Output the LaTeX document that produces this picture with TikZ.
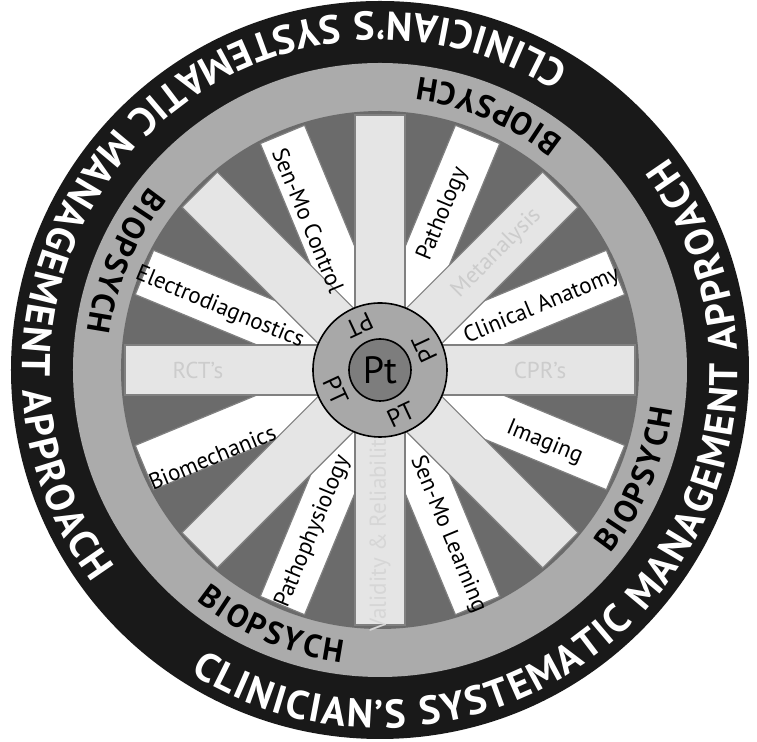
\documentclass[tikz,border=0pt]{standalone}
\usepackage{fontspec}
\setmainfont{PT Sans}
\usetikzlibrary{decorations.text}

\definecolor{rimblack}{gray}{0.1}
\definecolor{rimgray}{gray}{0.67}
\definecolor{wedgegray}{gray}{0.42}
\definecolor{spokegray}{gray}{0.9}
\definecolor{edgegray}{gray}{0.5}
\definecolor{hubgray}{gray}{0.66}
\definecolor{coregray}{gray}{0.49}
\definecolor{fadegray}{gray}{0.8}
\definecolor{palegray}{gray}{0.84}

\tikzset{
	spokeedge/.style={draw=edgegray,line width=0.6pt},
	spokelabel/.style={font=\fontsize{11.5}{12}\selectfont,inner sep=0pt},
	fadelabel/.style={spokelabel,text=fadegray},
	hublabel/.style={font=\fontsize{12.5}{13}\selectfont,inner sep=0pt},
}

\begin{document}
\begin{tikzpicture}[x=0.5pt,y=0.5pt]
		\def\rr{369}
		\def\rg{307}
		\def\rw{259}
		\def\sl{255}
		\useasboundingbox (-380,-372) rectangle (377,370);
		\fill[rimblack] (0,0) circle (\rr);
		\fill[rimgray] (0,0) circle (\rg);
		\fill[wedgegray] (0,0) circle (\rw);
		% white spokes first, grey ones on top
		\foreach \a in {22.5,67.5,...,337.5}
			\filldraw[spokeedge,fill=white,rotate=\a] (0,-24) rectangle (\sl,24);
		\foreach \a in {0,45,...,315}
			\filldraw[spokeedge,fill=spokegray,rotate=\a] (0,-25) rectangle (\sl,25);
		\foreach \n/\a/\r/\o/\t in {patho/68/168/67.5/Pathology,
				clin/21.6/174/22.5/Clinical Anatomy,
				img/-23.9/180/-22.5/Imaging,
				lrn/-67.5/178/-67.5/Sen-Mo Learning,
				phys/247.5/175/67.5/Pathophysiology,
				bio/207.4/189/22.5/Biomechanics,
				elec/158.8/172/-22.5/Electrodiagnostics,
				ctrl/115.6/166/-67.5/Sen-Mo Control}
			\node[spokelabel,rotate=\o] (\n) at (\a:\r) {\t};
		\node[fadelabel,rotate=45] (meta) at (45:165) {Metanalysis};
		\node[fadelabel] (cpr) at (0:160) {CPR’s};
		\node[fadelabel] (rct) at (180:182) {RCT’s};
		\node[fadelabel,text=palegray,rotate=90] (valid) at (270:160) {Validity \& Reliability};
		% hub
		\filldraw[fill=hubgray,draw=black,line width=0.8pt] (0,0) circle (67);
		\filldraw[fill=coregray,draw=black,line width=0.8pt] (0,0) circle (31);
		\node[font=\fontsize{19}{19}\selectfont,inner sep=0pt] (patient) at (0,0) {Pt};
		\foreach \a [count=\i] in {25,115,205,295}
			\node[hublabel,rotate=\a+90] (pt\i) at (\a:49) {PT};
		% lettering round the rims
		\foreach \c in {67,157,247,337}
			\path[decorate,decoration={text along path,text align={fit to path},
				text={|\bfseries\fontsize{16}{16}\selectfont|BIOPSYCH}}]
				({\c-15.5}:295) arc[start angle=\c-15.5,end angle=\c+15.5,radius=295];
		\foreach \s in {238,58}
			\path[decorate,decoration={text along path,text align={fit to path},text color=white,
				text={|\bfseries\fontsize{20}{20}\selectfont|CLINICIAN’S SYSTEMATIC MANAGEMENT APPROACH}}]
				(\s:358) arc[start angle=\s,end angle=\s+158.5,radius=358];
	\end{tikzpicture}
\end{document}
